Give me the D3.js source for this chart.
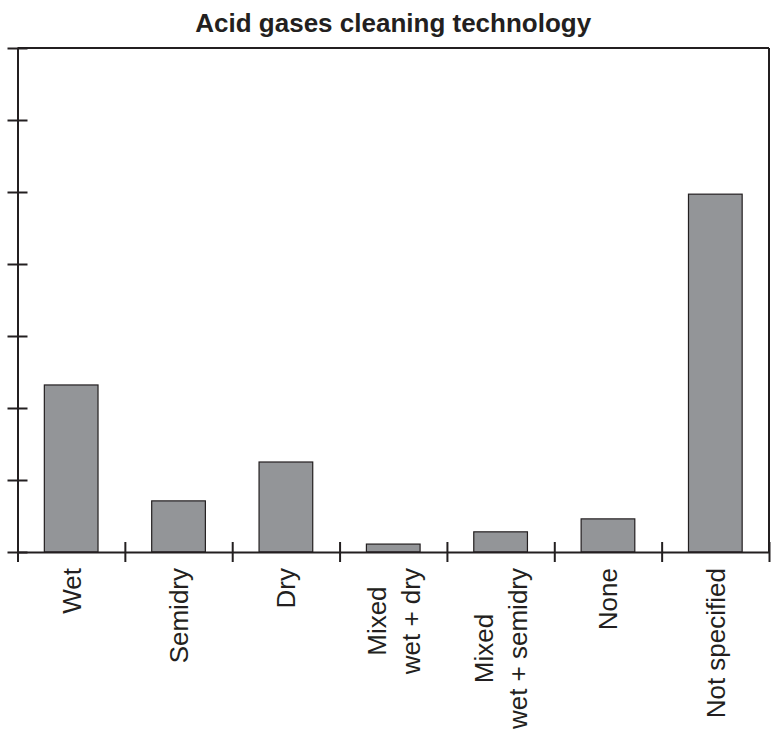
<!DOCTYPE html>
<html>
<head>
<meta charset="utf-8">
<style>
  body { margin: 0; background: #fff; }
  text { font-family: "Liberation Sans", Arial, sans-serif; fill: #231f20; }
</style>
<title>Acid gases cleaning technology</title>
</head>
<body>
<script src="https://cdn.jsdelivr.net/npm/d3@7"></script>
<script>
// categories, values (unlabeled scale 0-70)
var categories = ["Wet", "Semidry", "Dry", "Mixed\nwet + dry", "Mixed\nwet + semidry", "None", "Not specified"];
var values = [23.2, 7.1, 12.5, 1.1, 2.8, 4.6, 49.7];
var yTicks = [0, 10, 20, 30, 40, 50, 60, 70];
var title = "Acid gases cleaning technology";

var ink = "#231f20";
var margin = {top: 48, right: 7, bottom: 177, left: 17.5},
    width = 776 - margin.left - margin.right,
    height = 729 - margin.top - margin.bottom;

var svgRoot = d3.select("body").append("svg")
    .attr("width", 776)
    .attr("height", 729);

svgRoot.append("text")
    .attr("x", margin.left + width / 2)
    .attr("y", 32)
    .attr("text-anchor", "middle")
    .style("font-weight", "bold")
    .style("font-size", "26px")
    .text(title);

var svg = svgRoot.append("g")
    .attr("transform", "translate(" + margin.left + "," + margin.top + ")");

var x = d3.scaleBand()
    .domain(categories)
    .range([0, width])
    .paddingInner(0.5)
    .paddingOuter(0.25);

// boundaries between categories, for the tick marks
var xEdge = d3.scaleLinear()
    .domain([0, categories.length])
    .range([0, width]);

var y = d3.scaleLinear()
    .domain([0, 70])
    .range([height, 0]);

// bars
svg.selectAll(".bar")
    .data(values)
  .enter().append("rect")
    .attr("class", "bar")
    .attr("x", (d, i) => x(categories[i]))
    .attr("y", d => y(d))
    .attr("width", x.bandwidth())
    .attr("height", d => y(0) - y(d))
    .attr("fill", "#939598")
    .attr("stroke", ink)
    .attr("stroke-width", 1.2);

// top and right frame
svg.append("line")
    .attr("x1", 0).attr("x2", width)
    .attr("y1", y(70)).attr("y2", y(70))
    .attr("stroke", ink).attr("stroke-width", 2);
svg.append("line")
    .attr("x1", width).attr("x2", width)
    .attr("y1", y(70)).attr("y2", height)
    .attr("stroke", ink).attr("stroke-width", 2);

// y axis, crossing ticks, no labels
var yAxis = d3.axisLeft(y).tickValues(yTicks).tickFormat("").tickSizeOuter(0);
var gy = svg.append("g").call(yAxis);
gy.selectAll(".tick line").attr("x1", 10).attr("x2", -10);

// x axis, ticks at category boundaries
var xAxis = d3.axisBottom(xEdge)
    .tickValues(d3.range(0, categories.length + 1))
    .tickFormat("")
    .tickSizeOuter(0);
var gx = svg.append("g")
    .attr("transform", "translate(0," + height + ")")
    .call(xAxis);
gx.selectAll(".tick line").attr("y1", -10).attr("y2", 10);

[gx, gy].forEach(function(g) {
  g.select(".domain").attr("stroke", ink).attr("stroke-width", 2);
  g.selectAll(".tick line").attr("stroke", ink).attr("stroke-width", 2);
});

// rotated category labels
var fs = 26;
categories.forEach(function(c) {
  var lines = c.split("\n");
  var cx = x(c) + x.bandwidth() / 2;
  var g = svg.append("g")
      .attr("transform", "translate(" + cx + "," + (height + 16) + ") rotate(-90)");
  var texts = lines.map(function(l, i) {
    return g.append("text")
        .attr("text-anchor", "middle")
        .attr("dy", ((i - (lines.length - 1) / 2) * 1.3 + 0.36) + "em")
        .style("font-size", fs + "px")
        .text(l);
  });
  var maxW = d3.max(texts, t => t.node().getComputedTextLength());
  texts.forEach(t => t.attr("x", -maxW / 2));
});
</script>
</body>
</html>
